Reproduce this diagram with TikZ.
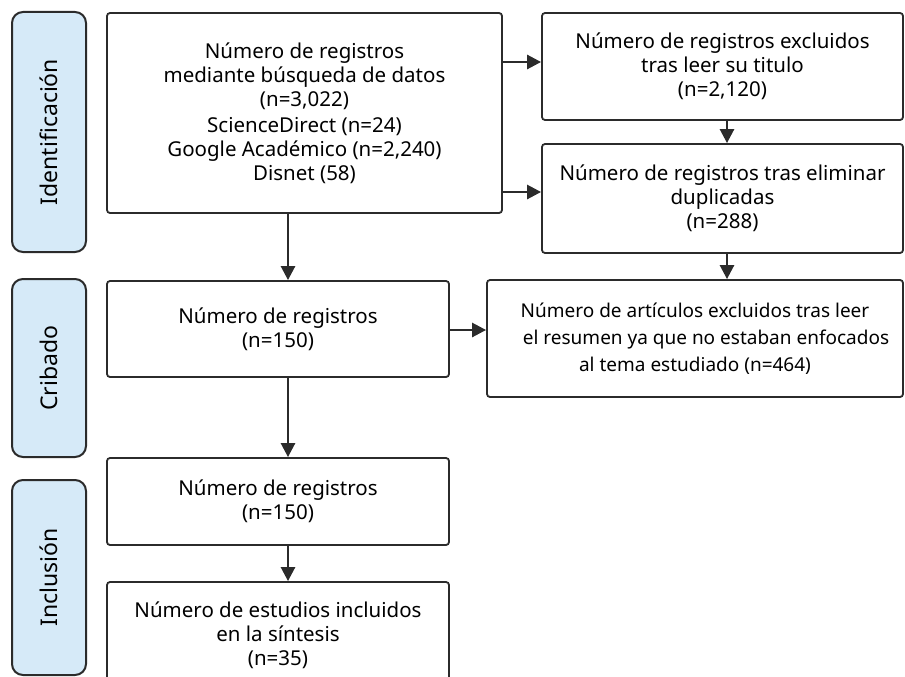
\documentclass[tikz,border=0pt]{standalone}
\usepackage{fontspec}
\setmainfont{Noto Sans}
\usetikzlibrary{arrows.meta}
\definecolor{phasefill}{HTML}{D6EAF8}
\definecolor{edge}{HTML}{2B2B2B}
\tikzset{
	phase/.style={draw=edge, line width=2pt, fill=phasefill, rounded corners=11pt, minimum width=74pt, inner sep=0pt},
	stepbox/.style={draw=edge, line width=1.8pt, fill=white, rounded corners=3pt, align=center, inner sep=0pt, font=\fontsize{20.5}{24}\selectfont},
	flow/.style={line width=2.6pt, draw=edge, -{Triangle[length=14pt,width=14pt]}}
}

\begin{document}
\begin{tikzpicture}[x=1pt, y=-1pt]
		%%%%% START %%%%%
		\useasboundingbox (0, 0) rectangle (905, 677);
		
		% phases
		\node[phase, minimum height=240pt] (ident) at (49, 132) {\rotatebox{90}{\fontsize{23}{27}\selectfont Identificación}};
		\node[phase, minimum height=178pt] (crib) at (49, 368) {\rotatebox{90}{\fontsize{23}{27}\selectfont Cribado}};
		\node[phase, minimum height=195pt] (inclu) at (49, 577.5) {\rotatebox{90}{\fontsize{23}{27}\selectfont Inclusión}};
		
		% boxes
		\node[stepbox, minimum width=395pt, minimum height=200pt] (reg) at (304.5, 113)
			{Número de registros\\ mediante búsqueda de datos\\ (n=3,022)\\[2pt] ScienceDirect (n=24)\\ Google Académico (n=2,240)\\ Disnet (58)};
		\node[stepbox, minimum width=361pt, minimum height=107pt] (excl) at (722.5, 66.5)
			{Número de registros excluidos\\ tras leer su titulo\\ (n=2,120)};
		\node[stepbox, minimum width=361pt, minimum height=109pt] (dup) at (722.5, 198.5)
			{Número de registros tras eliminar\\ duplicadas\\ (n=288)};
		\node[stepbox, minimum width=342pt, minimum height=96pt] (scr) at (278, 329)
			{Número de registros\\ (n=150)};
		\node[stepbox, minimum width=416pt, minimum height=117pt, font=\fontsize{19}{27}\selectfont] (art) at (695, 338.5)
			{Número de artículos excluidos tras leer\\ \hspace*{22pt}el resumen ya que no estaban enfocados\\ al tema estudiado (n=464)};
		\node[stepbox, minimum width=342pt, minimum height=87pt] (incl) at (278, 501.5)
			{Número de registros\\ (n=150)};
		\node[stepbox, minimum width=342pt, minimum height=106pt] (sint) at (278, 635)
			{Número de estudios incluidos\\ en la síntesis\\ (n=35)};
		
		% arrows
		\coordinate (spine) at (288, 0);
		\coordinate (side) at (727, 0);
		\draw[flow] (reg.east |- 0, 62) -- (excl.west |- 0, 62);
		\draw[flow] (reg.east |- 0, 192) -- (dup.west |- 0, 192);
		\draw[flow] (excl.south -| side) -- (dup.north -| side);
		\draw[flow] (dup.south -| side) -- (art.north -| side);
		\draw[flow] (reg.south -| spine) -- (scr.north -| spine);
		\draw[flow] (scr.east |- 0, 330) -- (art.west |- 0, 330);
		\draw[flow] (scr.south -| spine) -- (incl.north -| spine);
		\draw[flow] (incl.south -| spine) -- (sint.north -| spine);
		
		%%%%% END %%%%%
	\end{tikzpicture}
\end{document}
